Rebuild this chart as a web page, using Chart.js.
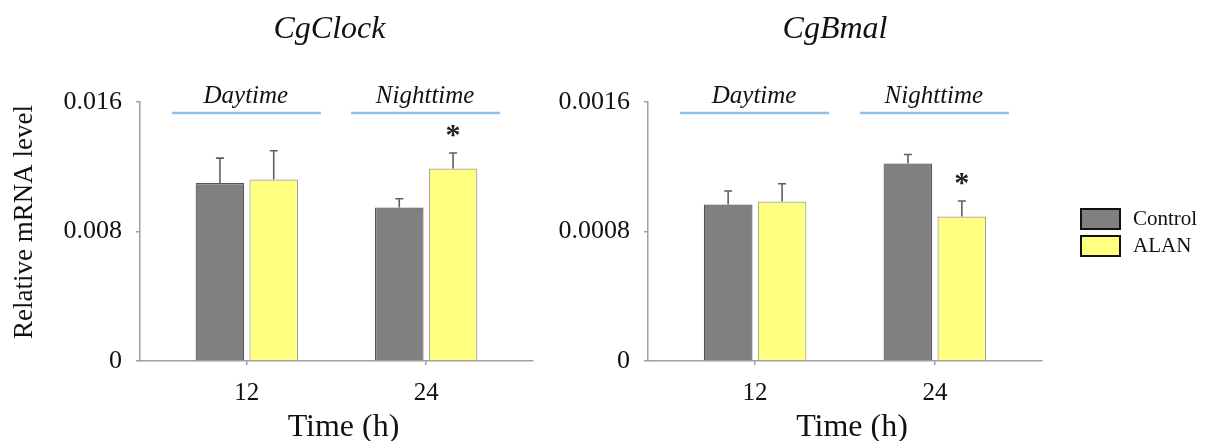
<!DOCTYPE html>
<html>
<head>
<meta charset="utf-8">
<script src="https://cdn.jsdelivr.net/npm/chart.js@4/dist/chart.umd.min.js"></script>
<style>
  html, body { margin: 0; padding: 0; background: #ffffff; }
  #wrap { position: relative; width: 1209px; height: 441px; overflow: hidden; background: #fff; }
  canvas { position: absolute; top: 0; }
  #c1 { left: 0px; }
  #c2 { left: 540px; }
</style>
</head>
<body>
<div id="wrap">
  <canvas id="c1" width="540" height="441"></canvas>
  <canvas id="c2" width="669" height="441"></canvas>
</div>
<script>
// ---- data ----
const categories = [12, 24];
const periods = ['Daytime', 'Nighttime'];
const seriesNames = ['Control', 'ALAN'];

const clockControl    = [0.01100, 0.00948];
const clockControlErr = [0.00153, 0.00054];
const clockAlan       = [0.01121, 0.01189];
const clockAlanErr    = [0.00178, 0.00096];
const clockSig        = ['', '*'];
const clockTicks      = [0, 0.008, 0.016];
const clockTickLabels = ['0', '0.008', '0.016'];

const bmalControl    = [0.000967, 0.00122];
const bmalControlErr = [0.000083, 0.000056];
const bmalAlan       = [0.000985, 0.000893];
const bmalAlanErr    = [0.000110, 0.000095];
const bmalSig        = ['', '*'];
const bmalTicks      = [0, 0.0008, 0.0016];
const bmalTickLabels = ['0', '0.0008', '0.0016'];

// ---- styles ----
const FONT = "'Liberation Serif', 'Times New Roman', serif";
const AXIS_COLOR = '#a0a0a0';
const CONTROL_FILL = '#808080', CONTROL_BORDER = '#555555';
const ALAN_FILL = '#ffff80', ALAN_BORDER = '#a0a0a0';
const ERR_COLOR = '#606060';
const LINE_BLUE = '#90bfe9';

function makeChart(canvasId, opt) {
  const ds = [
    { label: seriesNames[0], data: categories.map((c, i) => ({ x: c, y: opt.control[i] })),
      backgroundColor: CONTROL_FILL, borderColor: CONTROL_BORDER, borderWidth: 1.2 },
    { label: seriesNames[1], data: categories.map((c, i) => ({ x: c, y: opt.alan[i] })),
      backgroundColor: ALAN_FILL, borderColor: ALAN_BORDER, borderWidth: 1.2 }
  ];
  const errs = [opt.controlErr, opt.alanErr];
  const vals = [opt.control, opt.alan];

  const overlay = {
    id: 'overlay',
    afterDatasetsDraw(chart) {
      const ctx = chart.ctx;
      const xs = chart.scales.x, ys = chart.scales.y;
      const area = chart.chartArea;
      ctx.save();
      // error bars
      for (let d = 0; d < 2; d++) {
        const meta = chart.getDatasetMeta(d);
        meta.data.forEach((bar, i) => {
          const yTop = ys.getPixelForValue(vals[d][i] + errs[d][i]);
          const yBar = ys.getPixelForValue(vals[d][i]);
          ctx.strokeStyle = ERR_COLOR;
          ctx.lineWidth = 1.6;
          ctx.beginPath();
          ctx.moveTo(bar.x, yBar);
          ctx.lineTo(bar.x, yTop);
          ctx.moveTo(bar.x - 4, yTop);
          ctx.lineTo(bar.x + 4, yTop);
          ctx.stroke();
        });
      }
      // significance marks above ALAN bars
      const alanMeta = chart.getDatasetMeta(1);
      ctx.fillStyle = '#222';
      ctx.font = 'bold 30px ' + FONT;
      ctx.textAlign = 'center';
      ctx.textBaseline = 'alphabetic';
      opt.sig.forEach((s, i) => {
        if (!s) return;
        const bar = alanMeta.data[i];
        const yTop = ys.getPixelForValue(opt.alan[i] + opt.alanErr[i]);
        ctx.fillText(s, bar.x, yTop - 9);
      });
      // period labels and lines
      categories.forEach((c, i) => {
        const cx = xs.getPixelForValue(c);
        ctx.strokeStyle = LINE_BLUE;
        ctx.lineWidth = 2.5;
        ctx.beginPath();
        ctx.moveTo(cx - 75, area.top + 11);
        ctx.lineTo(cx + 74, area.top + 11);
        ctx.stroke();
        ctx.fillStyle = '#111';
        ctx.font = 'italic 25px ' + FONT;
        ctx.textAlign = 'center';
        ctx.textBaseline = 'alphabetic';
        ctx.fillText(periods[i], cx - 1, area.top + 1);
      });
      // chart title
      const midX = (area.left + area.right) / 2;
      ctx.fillStyle = '#111';
      ctx.font = 'italic 32px ' + FONT;
      ctx.textAlign = 'center';
      ctx.textBaseline = 'alphabetic';
      ctx.fillText(opt.title, midX + opt.titleDx, 38);
      // x axis title
      ctx.font = '32px ' + FONT;
      ctx.fillText('Time (h)', midX + 7, 436);
      // y axis title
      if (opt.yTitle) {
        ctx.save();
        ctx.translate(25, 222);
        ctx.rotate(-Math.PI / 2);
        ctx.font = '27px ' + FONT;
        ctx.textBaseline = 'middle';
        ctx.fillText(opt.yTitle, 0, 0);
        ctx.restore();
      }
      // legend
      if (opt.legend) {
        const lx = area.right + 39;
        const fills = [CONTROL_FILL, ALAN_FILL];
        const tops = [209, 236];
        ctx.font = '21px ' + FONT;
        ctx.textAlign = 'left';
        ctx.textBaseline = 'middle';
        for (let k = 0; k < 2; k++) {
          ctx.fillStyle = fills[k];
          ctx.fillRect(lx, tops[k], 39, 20);
          ctx.strokeStyle = '#111';
          ctx.lineWidth = 2;
          ctx.strokeRect(lx, tops[k], 39, 20);
          ctx.fillStyle = '#111';
          ctx.fillText(seriesNames[k], lx + 52, tops[k] + 10);
        }
      }
      ctx.restore();
    }
  };

  return new Chart(document.getElementById(canvasId), {
    type: 'bar',
    data: { datasets: ds },
    options: {
      responsive: false,
      animation: false,
      devicePixelRatio: 1,
      layout: { padding: { left: 0, top: 102, right: opt.padRight, bottom: 0 } },
      datasets: { bar: { categoryPercentage: 0.6, barPercentage: 0.903 } },
      plugins: { legend: { display: false }, tooltip: { enabled: false }, title: { display: false } },
      scales: {
        x: {
          type: 'linear',
          offset: false,
          min: 4.85, max: 31.15,
          afterBuildTicks: (s) => { s.ticks = categories.map(v => ({ value: v })); },
          afterFit: (s) => { s.height = 80; },
          ticks: { color: '#111', font: { family: FONT, size: 25 }, padding: 13,
                   callback: (v) => String(v) },
          grid: { offset: false, drawOnChartArea: false, drawTicks: true, tickLength: 4, color: AXIS_COLOR, lineWidth: 1.5 },
          border: { display: true, color: AXIS_COLOR, width: 1.5 }
        },
        y: {
          type: 'linear',
          min: opt.ticks[0], max: opt.ticks[opt.ticks.length - 1],
          afterBuildTicks: (s) => { s.ticks = opt.ticks.map(v => ({ value: v })); },
          afterFit: (s) => { s.width = opt.axisLeft; },
          ticks: { color: '#111', font: { family: FONT, size: 26 }, padding: 14,
                   callback: (v, i) => opt.tickLabels[i] },
          grid: { drawOnChartArea: false, drawTicks: true, tickLength: 4, color: AXIS_COLOR, lineWidth: 1.5 },
          border: { display: true, color: AXIS_COLOR, width: 1.5 }
        }
      }
    },
    plugins: [overlay]
  });
}

makeChart('c1', {
  control: clockControl, controlErr: clockControlErr,
  alan: clockAlan, alanErr: clockAlanErr, sig: clockSig,
  ticks: clockTicks, tickLabels: clockTickLabels,
  title: 'CgClock', titleDx: -7, yTitle: 'Relative mRNA level',
  axisLeft: 140, padRight: 7, legend: false
});
makeChart('c2', {
  control: bmalControl, controlErr: bmalControlErr,
  alan: bmalAlan, alanErr: bmalAlanErr, sig: bmalSig,
  ticks: bmalTicks, tickLabels: bmalTickLabels,
  title: 'CgBmal', titleDx: -10, yTitle: null,
  axisLeft: 108, padRight: 167, legend: true
});
</script>
</body>
</html>
